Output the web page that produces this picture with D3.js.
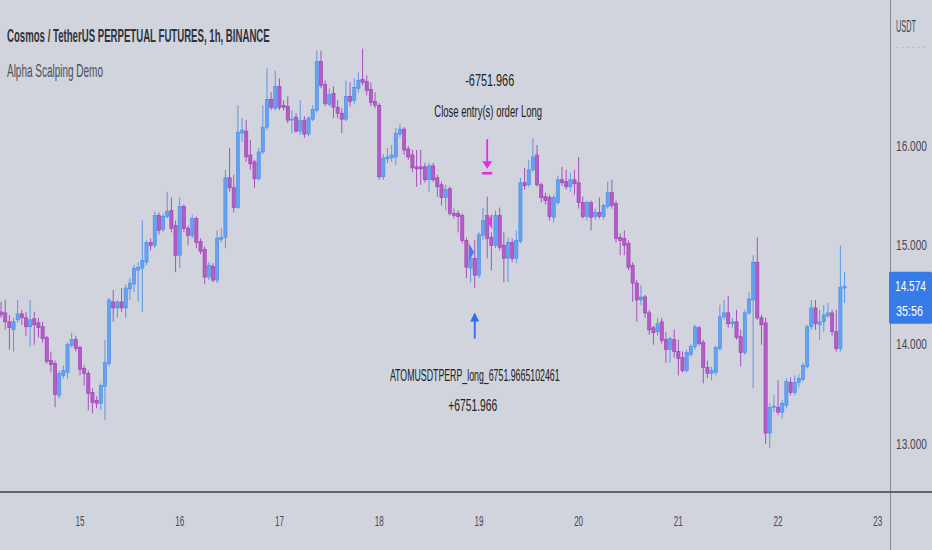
<!DOCTYPE html>
<html><head><meta charset="utf-8">
<script src="https://cdn.jsdelivr.net/npm/d3@7/dist/d3.min.js"></script>
<style>html,body{margin:0;padding:0;background:#d1d4dc;overflow:hidden}</style>
</head><body><svg id="c" width="932" height="550"></svg>
<script>
// ---- DATA (1h candles, ATOMUSDTPERP, first bar = 14th 05:00) ----
const startHour = -19; // hours relative to day 15 00:00
const open = [14.32,14.31,14.22,14.14,14.24,14.30,14.26,14.17,14.25,14.21,
14.17,14.06,13.83,13.80,13.48,13.68,13.71,13.98,14.04,13.96,
13.75,13.70,13.51,13.43,13.40,13.57,13.80,14.42,14.36,14.42,
14.36,14.55,14.60,14.74,14.76,14.82,15.02,14.99,15.29,15.15,
15.28,15.34,15.19,14.89,15.38,15.16,15.09,15.26,15.03,14.95,
14.67,14.78,14.64,15.05,15.07,15.67,15.57,15.37,16.12,16.14,
15.90,15.83,15.66,15.93,16.18,16.46,16.37,16.59,16.40,16.39,
16.25,16.28,16.14,16.25,16.11,16.26,16.35,16.84,16.61,16.41,
16.52,16.38,16.32,16.26,16.49,16.45,16.57,16.66,16.64,16.56,
16.44,16.40,15.68,15.86,15.87,15.88,16.11,16.16,15.96,15.90,
15.78,15.78,15.78,15.65,15.79,15.67,15.60,15.47,15.56,15.31,
15.31,15.29,15.04,14.76,14.86,14.69,15.09,15.29,15.07,14.99,
15.29,14.99,14.86,15.02,14.86,15.03,15.62,15.60,15.75,15.90,
15.60,15.48,15.47,15.27,15.42,15.65,15.63,15.58,15.65,15.62,
15.42,15.28,15.42,15.28,15.32,15.28,15.38,15.52,15.41,15.07,
15.06,15.01,14.79,14.61,14.44,14.47,14.31,14.16,14.12,14.22,
14.04,13.94,14.04,13.92,13.86,13.73,13.89,13.97,14.16,14.01,
13.76,13.70,13.71,13.95,14.27,14.31,14.20,14.22,14.07,13.91,
14.31,14.44,14.82,14.26,14.21,13.10,13.36,13.36,13.31,13.38,
13.61,13.51,13.61,13.64,13.77,14.17,14.36,14.19,14.22,14.28,
14.31,14.12,13.95,14.56];
const high = [14.42,14.44,14.29,14.26,14.44,14.34,14.32,14.44,14.32,14.26,
14.22,14.08,13.92,13.83,13.73,13.78,14.01,14.11,14.08,13.98,
13.78,13.73,13.55,13.47,13.60,14.04,14.46,14.54,14.44,14.56,
14.60,14.66,14.79,14.82,15.24,15.04,15.06,15.33,15.32,15.31,
15.53,15.47,15.24,15.47,15.40,15.19,15.30,15.28,15.06,14.98,
14.82,14.81,15.14,15.16,15.75,15.97,15.70,16.40,16.27,16.25,
16.05,15.85,15.97,16.40,16.77,16.53,16.75,16.67,16.45,16.49,
16.35,16.32,16.45,16.29,16.29,16.40,16.95,16.95,16.65,16.57,
16.59,16.45,16.37,16.65,16.63,16.67,16.73,16.97,16.70,16.63,
16.53,16.42,15.91,15.97,16.00,16.17,16.21,16.18,15.99,15.95,
15.95,15.95,15.82,15.82,15.82,15.70,15.63,15.60,15.58,15.36,
15.34,15.31,15.07,14.94,15.04,15.12,15.37,15.48,15.12,15.34,
15.37,15.12,15.07,15.06,15.14,15.67,15.77,15.85,16.07,16.00,
15.62,15.52,15.50,15.50,15.69,15.78,15.75,15.72,15.75,15.88,
15.48,15.44,15.44,15.36,15.47,15.41,15.63,15.65,15.44,15.11,
15.14,15.04,14.82,14.64,14.59,14.49,14.34,14.18,14.26,14.26,
14.12,14.07,14.14,14.04,13.92,13.94,14.00,14.19,14.18,14.04,
13.83,13.77,13.98,14.39,14.44,14.48,14.26,14.34,14.14,14.34,
14.52,14.89,15.07,14.29,14.26,13.40,13.48,13.63,13.43,13.65,
13.66,13.68,13.69,13.81,14.19,14.44,14.44,14.34,14.39,14.41,
14.34,14.34,14.99,14.72];
const low = [14.26,14.14,13.94,13.92,14.21,14.19,14.08,13.97,13.99,14.06,
14.01,13.80,13.71,13.36,13.45,13.65,13.65,13.96,13.92,13.68,
13.58,13.33,13.30,13.35,13.33,13.23,13.77,14.22,14.26,14.32,
14.26,14.44,14.52,14.42,14.32,14.79,14.94,14.96,15.10,15.12,
15.26,15.12,14.72,14.76,15.12,14.99,15.06,14.96,14.90,14.60,
14.64,14.62,14.61,15.02,14.96,15.53,15.32,15.36,16.03,15.83,
15.75,15.57,15.64,15.91,16.15,16.35,16.35,16.35,16.35,16.22,
16.12,16.12,16.10,16.07,16.09,16.24,16.33,16.57,16.39,16.39,
16.27,16.27,16.12,16.24,16.39,16.41,16.53,16.60,16.50,16.39,
16.37,15.65,15.65,15.82,15.83,15.80,16.08,15.90,15.85,15.73,
15.58,15.60,15.62,15.53,15.63,15.48,15.39,15.34,15.29,15.26,
15.12,15.01,14.66,14.62,14.56,14.66,15.04,14.86,14.74,14.96,
14.94,14.62,14.62,14.82,14.81,15.01,15.55,15.58,15.73,15.58,
15.42,15.40,15.24,15.22,15.40,15.59,15.55,15.53,15.50,15.36,
15.26,15.24,15.14,15.25,15.26,15.25,15.36,15.36,15.02,14.89,
14.89,14.74,14.42,14.22,14.39,14.26,14.09,13.99,14.08,14.00,
13.81,13.81,13.86,13.68,13.71,13.71,13.87,13.94,13.98,13.60,
13.65,13.63,13.68,13.93,14.24,14.16,14.16,14.04,13.77,13.89,
14.29,13.55,14.24,13.99,12.99,12.95,13.31,13.28,13.25,13.35,
13.48,13.48,13.56,13.62,13.75,14.14,14.14,14.04,14.12,14.26,
14.08,13.92,13.92,14.41];
const close = [14.29,14.22,14.16,14.22,14.30,14.26,14.17,14.24,14.19,14.16,
14.05,13.82,13.79,13.49,13.70,13.73,13.99,14.04,13.95,13.74,
13.70,13.50,13.41,13.40,13.58,13.81,14.44,14.36,14.42,14.36,
14.56,14.61,14.76,14.77,14.84,15.02,14.99,15.29,15.14,15.28,
15.33,15.16,14.89,15.38,15.16,15.09,15.26,15.02,14.93,14.67,
14.79,14.64,15.06,15.07,15.67,15.57,15.37,16.13,16.15,15.88,
15.81,15.66,15.93,16.18,16.46,16.38,16.59,16.38,16.38,16.25,
16.26,16.14,16.25,16.11,16.27,16.36,16.84,16.60,16.42,16.51,
16.38,16.32,16.26,16.49,16.44,16.58,16.65,16.63,16.55,16.43,
16.40,15.68,15.87,15.88,15.90,16.12,16.16,15.95,15.88,15.77,
15.76,15.76,15.65,15.79,15.65,15.58,15.47,15.55,15.31,15.29,
15.28,15.04,14.77,14.86,14.69,15.10,15.24,15.06,14.99,15.29,
14.97,14.86,15.02,14.86,15.04,15.62,15.59,15.75,15.88,15.60,
15.47,15.44,15.28,15.47,15.65,15.62,15.58,15.65,15.61,15.42,
15.28,15.42,15.27,15.32,15.28,15.39,15.52,15.39,15.06,15.04,
14.99,14.77,14.61,14.44,14.47,14.31,14.14,14.11,14.20,14.03,
13.94,14.05,13.92,13.85,13.73,13.91,13.97,14.17,14.00,13.76,
13.70,13.73,13.96,14.27,14.31,14.20,14.22,14.06,13.91,14.31,
14.45,14.82,14.26,14.19,13.10,13.36,13.37,13.31,13.40,13.62,
13.51,13.61,13.65,13.78,14.17,14.36,14.20,14.22,14.29,14.31,
14.12,13.95,14.57,14.574];

const dayTicks = [15,16,17,18,19,20,21,22,23];
const priceTicks = [13,14,15,16];
const currency = "USDT";
const lastPrice = 14.574;
const countdown = "35:56";
const titleText = "Cosmos / TetherUS PERPETUAL FUTURES, 1h, BINANCE";
const indicatorText = "Alpha Scalping Demo";
const entryBar = 114, exitBar = 117;
const entryLabel = "ATOMUSDTPERP_long_6751.9665102461", entryProfit = "+6751.966";
const exitLabel = "Close entry(s) order Long", exitProfit = "-6751.966";
const markers = [{bar:113, price:14.92, dir:"right", color:"#3b7cf0"},
                 {bar:117, price:15.23, dir:"left",  color:"#dd3ee0"}];

// ---- CHART ----
const FONT = "'Liberation Sans', Arial, sans-serif";
const svg = d3.select("#c");
const W = 932, H = 550, plotR = 890, plotB = 492;
svg.append("rect").attr("width",W).attr("height",H).attr("fill","#d1d4dc");

const x = d3.scaleLinear().domain([0,192]).range([80,877.8]);
const y = d3.scaleLinear().domain([13,16]).range([443,145]);
const hourOf = i => startHour + i;

// text squeezed horizontally to a target width (the reference uses a narrow face)
function label(g, px, py, str, o){
  const t = g.append("text").attr("x",0).attr("y",0).text(str)
    .attr("font-family",FONT).attr("font-size",o.size).attr("fill",o.color)
    .attr("font-weight",o.weight||"normal").attr("text-anchor",o.anchor||"start");
  const nat = t.node().getComputedTextLength() || 1;
  const sx = o.width ? o.width / nat : 1;
  t.attr("transform", `translate(${px},${py}) scale(${sx},1)`);
  return t;
}

svg.append("clipPath").attr("id","plot").append("rect").attr("width",plotR).attr("height",plotB);
const plot = svg.append("g").attr("clip-path","url(#plot)");

const BLUE = {fill:"#66a2f0", stroke:"#4a8ce8"};
const MAG  = {fill:"#b25ec6", stroke:"#a13ab8"};
const candles = d3.range(open.length).map(i => ({i, o:open[i], h:high[i], l:low[i], c:close[i]}));
const cg = plot.selectAll("g.cd").data(candles).join("g");
cg.append("line")
  .attr("x1", d => x(hourOf(d.i))).attr("x2", d => x(hourOf(d.i)))
  .attr("y1", d => y(d.h)).attr("y2", d => y(d.l))
  .attr("stroke", d => (d.c >= d.o ? BLUE : MAG).stroke).attr("stroke-width",1).attr("opacity",0.85);
cg.append("rect")
  .attr("x", d => x(hourOf(d.i)) - 1.6).attr("width", 3.2)
  .attr("y", d => y(Math.max(d.o,d.c)))
  .attr("height", d => Math.max(1, Math.abs(y(d.o) - y(d.c))))
  .attr("fill", d => (d.c >= d.o ? BLUE : MAG).fill)
  .attr("stroke", d => (d.c >= d.o ? BLUE : MAG).stroke).attr("stroke-width",0.6);

// small triangle markers
markers.forEach(m => {
  const mx = x(hourOf(m.bar)), my = y(m.price);
  const p = m.dir === "right"
    ? [[mx-1.5,my-8.5],[mx+3.5,my],[mx-1.5,my+8.5]]
    : [[mx+5,my-8],[mx+0.3,my],[mx+5,my+8]];
  plot.append("path").attr("d", d3.line()(p) + "Z").attr("fill", m.color);
});

// entry arrow (below the bar)
const ex = x(hourOf(entryBar)), eTip = y(low[entryBar]) + 24.5;
plot.append("path").attr("d", d3.line()([[ex,eTip],[ex+4.5,eTip+9],[ex-4.5,eTip+9]])+"Z").attr("fill","#2f6ef2");
plot.append("rect").attr("x",ex-0.9).attr("width",1.8).attr("y",eTip+8).attr("height",18).attr("fill","#2f6ef2");
label(plot, ex, eTip + 68.5, entryLabel, {size:17, color:"#222", anchor:"middle", width:170});
label(plot, ex - 2, eTip + 98.5, entryProfit, {size:17, color:"#222", anchor:"middle", width:49});

// exit arrow (above the bar)
const xx = x(hourOf(exitBar)), bar = y(high[exitBar]) - 23.5;
plot.append("rect").attr("x",xx-5).attr("width",10).attr("y",bar-1.2).attr("height",2.6).attr("fill","#e02ee6");
plot.append("path").attr("d", d3.line()([[xx,bar-4.5],[xx+5,bar-12],[xx-5,bar-12]])+"Z").attr("fill","#e02ee6");
plot.append("rect").attr("x",xx-0.9).attr("width",1.8).attr("y",bar-34).attr("height",23).attr("fill","#e02ee6");
label(plot, xx + 1, bar - 56, exitLabel, {size:17, color:"#222", anchor:"middle", width:108});
label(plot, xx + 2.5, bar - 87, exitProfit, {size:17, color:"#222", anchor:"middle", width:49});

// header texts
label(svg, 7, 41.5, titleText, {size:19, weight:"bold", color:"#30333d", width:263});
label(svg, 7, 77, indicatorText, {size:18, color:"#4c4f5a", width:96});

// axes lines
svg.append("line").attr("x1",plotR+0.5).attr("x2",plotR+0.5).attr("y1",0).attr("y2",H)
  .attr("stroke","#85888f").attr("stroke-width",1);
svg.append("line").attr("x1",0).attr("x2",W).attr("y1",plotB).attr("y2",plotB)
  .attr("stroke","#62656f").attr("stroke-width",2.2);

// x axis labels
const xa = svg.append("g");
dayTicks.forEach(d => label(xa, x((d-15)*24), 525.5, String(d), {size:15, color:"#474a54", anchor:"middle", width:9}));

// y axis labels
const ya = svg.append("g");
label(ya, 896, 32, currency, {size:17, color:"#474a54", width:20});
ya.append("line").attr("x1",897).attr("x2",924).attr("y1",47.5).attr("y2",47.5)
  .attr("stroke","#a2a5ae").attr("stroke-dasharray","1.2,4").attr("stroke-width",1);
const fmt = d3.format(".3f");
priceTicks.forEach(p => label(ya, 896, y(p) + 5.5, fmt(p), {size:15, color:"#474a54", width:31}));

// last price tag
const ly = y(lastPrice);
ya.append("rect").attr("x",889).attr("y",ly-15).attr("width",43).attr("height",52).attr("rx",1.5).attr("fill","#377be9");
label(ya, 910.5, ly + 4, fmt(lastPrice), {size:15, color:"#ffffff", anchor:"middle", width:31});
label(ya, 909.5, ly + 29, countdown, {size:15, color:"#ffffff", anchor:"middle", width:27});
</script></body></html>
